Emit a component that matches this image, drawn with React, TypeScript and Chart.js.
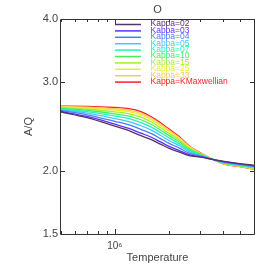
import React, { useEffect, useRef } from "react";
import { Chart, registerables } from "chart.js";

Chart.register(...registerables);

const temperatures = [5e5, 7e5, 1e6, 1.2e6, 1.4e6, 1.6e6, 1.8e6, 2e6, 2.3e6, 2.6e6, 3e6, 4e6, 5e6, 6e6];

const kappa02 = [2.617, 2.550, 2.453, 2.403, 2.349, 2.307, 2.260, 2.219, 2.179, 2.144, 2.130, 2.091, 2.068, 2.052];
const kappa03 = [2.624, 2.564, 2.475, 2.428, 2.376, 2.332, 2.283, 2.240, 2.195, 2.154, 2.134, 2.089, 2.065, 2.048];
const kappa04 = [2.635, 2.584, 2.508, 2.467, 2.417, 2.371, 2.318, 2.271, 2.219, 2.169, 2.141, 2.085, 2.061, 2.043];
const kappa05 = [2.645, 2.604, 2.540, 2.505, 2.458, 2.409, 2.353, 2.301, 2.243, 2.184, 2.148, 2.082, 2.057, 2.038];
const kappa07 = [2.654, 2.622, 2.569, 2.538, 2.493, 2.442, 2.383, 2.328, 2.263, 2.197, 2.153, 2.079, 2.053, 2.033];
const kappa10 = [2.663, 2.638, 2.595, 2.568, 2.526, 2.472, 2.411, 2.353, 2.282, 2.209, 2.159, 2.076, 2.050, 2.029];
const kappa15 = [2.670, 2.653, 2.619, 2.596, 2.556, 2.500, 2.436, 2.376, 2.300, 2.220, 2.163, 2.074, 2.047, 2.025];
const kappa25 = [2.677, 2.666, 2.641, 2.621, 2.583, 2.525, 2.460, 2.396, 2.316, 2.230, 2.168, 2.071, 2.044, 2.021];
const kappa33 = [2.682, 2.676, 2.656, 2.639, 2.602, 2.543, 2.476, 2.411, 2.327, 2.237, 2.171, 2.070, 2.042, 2.019];
const kappaMax = [2.687, 2.685, 2.671, 2.657, 2.621, 2.561, 2.492, 2.425, 2.338, 2.244, 2.174, 2.068, 2.040, 2.016];

const seriesLabels = ["Kappa=02", "Kappa=03", "Kappa=04", "Kappa=05", "Kappa=07", "Kappa=10", "Kappa=15", "Kappa=25", "Kappa=33", "Kappa=KMaxwellian"];
const seriesValues = [kappa02, kappa03, kappa04, kappa05, kappa07, kappa10, kappa15, kappa25, kappa33, kappaMax];
const seriesColors = ["#553366", "#5c30ff", "#4d7dff", "#40c8ff", "#28f0b8", "#40f060", "#a0f030", "#eaee28", "#ffc860", "#ff2020"];

const xTickValues = [5e5, 6e5, 7e5, 8e5, 9e5, 1e6, 2e6, 3e6, 4e6, 5e6, 6e6];
const yTickValues = [1.5, 2.0, 3.0, 4.0];

const FONT = "'Liberation Sans', 'DejaVu Sans', Arial, sans-serif";

const frameTicks = {
  id: "frameTicks",
  afterDatasetsDraw(chart: any) {
    const { ctx, chartArea, scales } = chart;
    const { left, right, top, bottom } = chartArea;
    const xs = scales.x;
    const ys = scales.y;
    ctx.save();
    ctx.strokeStyle = "#333";
    ctx.lineWidth = 1;
    ctx.beginPath();
    ctx.moveTo(left - 0.5, top + 0.5);
    ctx.lineTo(right + 0.5, top + 0.5);
    ctx.lineTo(right + 0.5, bottom + 0.5);
    ctx.lineTo(left - 0.5, bottom + 0.5);
    ctx.closePath();
    ctx.stroke();
    ctx.beginPath();
    xTickValues.forEach((v) => {
      const px = Math.round(xs.getPixelForValue(v)) + 0.5;
      const len = v === 1e6 ? 5 : 3;
      ctx.moveTo(px, bottom);
      ctx.lineTo(px, bottom - len);
      ctx.moveTo(px, top);
      ctx.lineTo(px, top + len);
    });
    yTickValues.forEach((v) => {
      const py = Math.round(ys.getPixelForValue(v)) + 0.5;
      ctx.moveTo(left, py);
      ctx.lineTo(left + 4, py);
      ctx.moveTo(right, py);
      ctx.lineTo(right - 4, py);
    });
    ctx.stroke();
    ctx.restore();
  },
};

const legendPlugin = {
  id: "innerLegend",
  afterDatasetsDraw(chart: any) {
    const { ctx, chartArea } = chart;
    const { left, top } = chartArea;
    ctx.save();
    ctx.font = `8.5px ${FONT}`;
    ctx.textBaseline = "middle";
    ctx.textAlign = "left";
    chart.data.datasets.forEach((ds: any, i: number) => {
      const y = top + 5.5 + i * 6.4;
      ctx.strokeStyle = ds.borderColor;
      ctx.lineWidth = 1.5;
      ctx.beginPath();
      ctx.moveTo(left + 54, y);
      ctx.lineTo(left + 80, y);
      ctx.stroke();
      ctx.fillStyle = ds.borderColor;
      ctx.fillText(ds.label, left + 89.5, y - 0.5);
    });
    ctx.restore();
  },
};

export default function App() {
  const ref = useRef<HTMLCanvasElement | null>(null);

  useEffect(() => {
    if (!ref.current) return;
    const datasets = seriesLabels.map((label, i) => ({
      label,
      data: temperatures.map((t, j) => ({ x: t, y: seriesValues[i][j] })),
      borderColor: seriesColors[i],
      backgroundColor: seriesColors[i],
      borderWidth: 1.3,
      pointRadius: 0,
      fill: false,
      cubicInterpolationMode: "monotone" as const,
    }));
    const chart = new Chart(ref.current, {
      type: "line",
      data: { datasets },
      plugins: [frameTicks, legendPlugin],
      options: {
        animation: false,
        responsive: false,
        layout: { padding: { left: 0, right: 19, top: 0, bottom: 0 } },
        plugins: {
          legend: { display: false },
          tooltip: { enabled: false },
          title: {
            display: true,
            text: "O",
            fullSize: false,
            color: "#444",
            font: { family: FONT, size: 11, weight: "normal" },
            padding: { top: 3, bottom: 2.8 },
          },
        },
        scales: {
          x: {
            type: "logarithmic",
            position: "bottom",
            min: 5e5,
            max: 6e6,
            grid: { display: false, drawTicks: false },
            border: { display: false },
            afterBuildTicks: (scale: any) => {
              scale.ticks = xTickValues.map((v) => ({ value: v, major: v === 1e6 }));
            },
            afterFit: (scale: any) => {
              scale.height = 39;
            },
            ticks: {
              autoSkip: false,
              maxRotation: 0,
              minRotation: 0,
              padding: 6,
              color: "#444",
              font: { family: FONT, size: 10 },
              callback: (v: any) => (Number(v) === 1e6 ? "10\u2076" : ""),
            },
            title: {
              display: true,
              text: "Temperature",
              color: "#444",
              font: { family: FONT, size: 11 },
              padding: { top: 0, bottom: 8 },
            },
          },
          y: {
            type: "logarithmic",
            position: "left",
            min: 1.5,
            max: 4.0,
            grid: { display: false, drawTicks: false },
            border: { display: false },
            afterBuildTicks: (scale: any) => {
              scale.ticks = yTickValues.map((v) => ({ value: v }));
            },
            afterFit: (scale: any) => {
              scale.width = 61;
            },
            ticks: {
              autoSkip: false,
              padding: 3,
              color: "#444",
              font: { family: FONT, size: 11 },
              callback: (v: any) => Number(v).toFixed(1),
            },
            title: {
              display: true,
              text: "A/Q",
              color: "#444",
              font: { family: FONT, size: 11 },
              padding: { top: 22.4, bottom: 0 },
            },
          },
        },
      },
    });
    return () => chart.destroy();
  }, []);

  return (
    <div style={{ position: "absolute", left: 0, top: 0, width: 273, height: 273, background: "#fff" }}>
      <canvas ref={ref} width={273} height={273} style={{ display: "block", width: 273, height: 273 }} />
    </div>
  );
}
